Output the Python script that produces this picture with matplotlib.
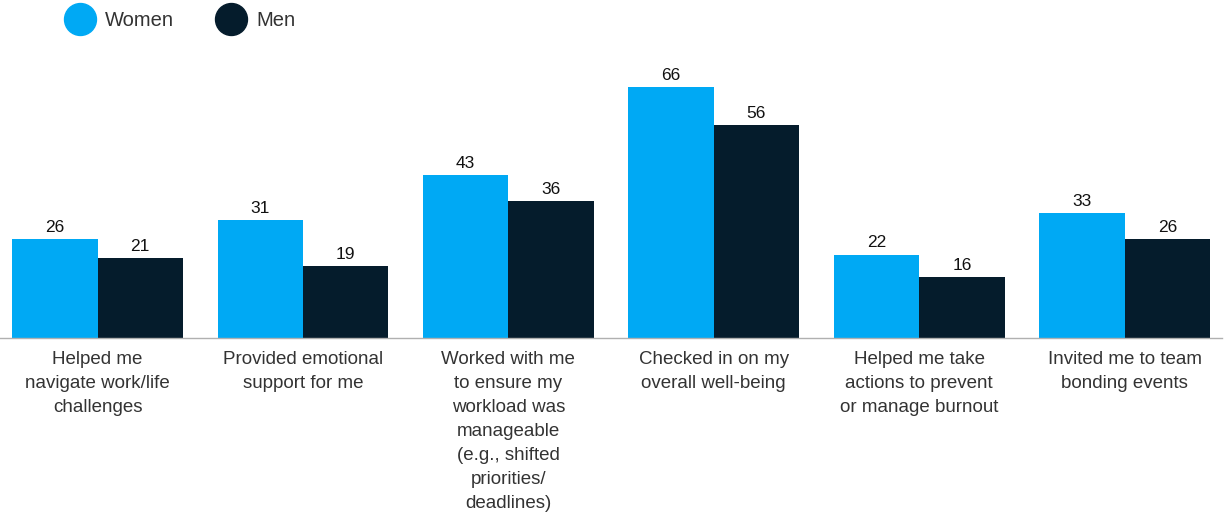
import matplotlib
matplotlib.use("Agg")
import matplotlib.pyplot as plt
from matplotlib.lines import Line2D
import numpy as np

categories = [
    "Helped me\nnavigate work/life\nchallenges",
    "Provided emotional\nsupport for me",
    "Worked with me\nto ensure my\nworkload was\nmanageable\n(e.g., shifted\npriorities/\ndeadlines)",
    "Checked in on my\noverall well-being",
    "Helped me take\nactions to prevent\nor manage burnout",
    "Invited me to team\nbonding events",
]
women = [26, 31, 43, 66, 22, 33]
men = [21, 19, 36, 56, 16, 26]

blue = "#00A9F4"
navy = "#051C2C"
plt.rcParams["font.family"] = ["Liberation Sans", "DejaVu Sans"]

fig = plt.figure(figsize=(12.27, 5.25), dpi=100)
ax = fig.add_axes([0, 0.356, 0.996, 0.5486])

x = np.arange(len(categories))
w = 0.416
b1 = ax.bar(x - w / 2, women, w, color=blue)
b2 = ax.bar(x + w / 2, men, w, color=navy)

for bars, vals in ((b1, women), (b2, men)):
    for r, v in zip(bars, vals):
        ax.text(r.get_x() + r.get_width() / 2, v + 1.1, str(v),
                ha="center", va="bottom", fontsize=12.5, color="#111111")

ax.set_xlim(-0.475, 5.475)
ax.set_ylim(0, 75.8)
ax.set_yticks([])
ax.set_xticks(x)
ax.set_xticklabels(categories, fontsize=13.5, color="#333333", linespacing=1.55,
                   va="top")
ax.tick_params(axis="x", length=0, pad=9)
for s in ("top", "right", "left"):
    ax.spines[s].set_visible(False)
ax.spines["bottom"].set_color("#b0b0b0")
ax.spines["bottom"].set_linewidth(1)

handles = [
    Line2D([], [], marker="o", linestyle="none", markersize=23, color=blue),
    Line2D([], [], marker="o", linestyle="none", markersize=23, color=navy),
]
fig.legend(handles, ["Women", "Men"], loc="upper left", bbox_to_anchor=(0.0337, 1.014),
           ncol=2, frameon=False, fontsize=14.5, labelcolor="#333333",
           handletextpad=0.25, columnspacing=1.85)

fig.savefig("out.png", dpi=100)
